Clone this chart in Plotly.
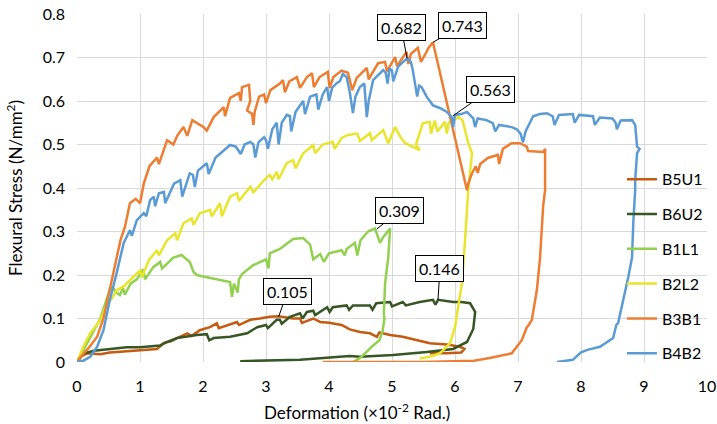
import plotly.graph_objects as go

names = ["B5U1", "B6U2", "B1L1", "B2L2", "B3B1", "B4B2"]
colors = ["#C55A11", "#375623", "#92D050", "#E8E52C", "#ED7D31", "#5B9BD5"]

b5u1 = [(0,0),(0.05,0.012),(0.16,0.02),(0.37,0.018),(0.52,0.022),(0.79,0.025),(1.06,0.027),(1.27,0.03),
        (1.38,0.044),(1.5,0.048),(1.63,0.058),(1.75,0.066),(1.82,0.06),(1.95,0.073),(2.11,0.08),(2.22,0.089),
        (2.25,0.078),(2.38,0.085),(2.54,0.092),(2.57,0.085),(2.75,0.097),(2.9,0.1),(3.06,0.104),(3.2,0.105),
        (3.43,0.1),(3.54,0.1),(3.57,0.09),(3.75,0.1),(3.86,0.092),(4.0,0.09),(4.2,0.085),(4.33,0.075),
        (4.49,0.069),(4.65,0.066),(4.76,0.058),(4.8,0.068),(4.97,0.062),(5.17,0.058),(5.4,0.05),(5.6,0.043),
        (5.87,0.04),(6.08,0.035),(6.15,0.03),(6.1,0.022),(5.87,0.02),(5.6,0.02)]

b6u2 = [(0,0),(0.11,0.02),(0.27,0.026),(0.52,0.03),(0.79,0.034),(1.0,0.034),(1.32,0.038),(1.43,0.046),
        (1.59,0.055),(1.9,0.062),(2.06,0.064),(2.1,0.05),(2.17,0.055),(2.43,0.058),(2.7,0.066),(2.86,0.08),
        (3.0,0.085),(3.03,0.078),(3.17,0.097),(3.22,0.097),(3.25,0.088),(3.38,0.104),(3.54,0.112),(3.58,0.1),
        (3.65,0.115),(3.75,0.118),(3.78,0.108),(3.97,0.126),(4.01,0.115),(4.06,0.126),(4.28,0.13),(4.32,0.12),
        (4.38,0.13),(4.65,0.13),(4.69,0.12),(4.75,0.135),(4.97,0.138),(5.0,0.128),(5.17,0.138),(5.22,0.13),
        (5.44,0.138),(5.65,0.143),(5.69,0.132),(5.73,0.143),(5.97,0.138),(6.1,0.138),(6.24,0.135),(6.32,0.115),
        (6.29,0.076),(6.19,0.046),(5.97,0.03),(5.55,0.023),(5.02,0.016),(4.49,0.012),(4.33,0.014),(3.54,0.005),
        (2.59,0.002)]

b1l1 = [(0,0),(0.16,0.044),(0.37,0.10),(0.52,0.166),(0.57,0.172),(0.62,0.16),(0.68,0.154),(0.73,0.17),
        (0.76,0.155),(0.85,0.18),(0.95,0.19),(1.05,0.213),(1.08,0.19),(1.21,0.218),(1.32,0.23),(1.35,0.215),
        (1.53,0.24),(1.66,0.246),(1.79,0.23),(1.85,0.207),(1.9,0.2),(2.06,0.195),(2.27,0.188),(2.43,0.184),
        (2.46,0.15),(2.49,0.18),(2.55,0.16),(2.57,0.19),(2.62,0.202),(2.79,0.222),(3.0,0.236),(3.04,0.215),
        (3.06,0.25),(3.22,0.26),(3.43,0.283),(3.59,0.285),(3.7,0.27),(3.75,0.236),(3.86,0.248),(3.92,0.23),
        (4.0,0.25),(4.2,0.257),(4.25,0.245),(4.28,0.26),(4.41,0.274),(4.45,0.245),(4.5,0.28),(4.62,0.3),
        (4.73,0.307),(4.81,0.274),(4.86,0.287),(4.97,0.307),(4.94,0.24),(4.89,0.18),(4.87,0.11),(4.88,0.1),
        (4.85,0.07),(4.8,0.05),(4.7,0.038),(4.6,0.025),(4.5,0.01),(4.38,0.0)]

b2l2 = [(0,0.0),(0.1,0.035),(0.21,0.066),(0.37,0.096),(0.48,0.135),(0.55,0.145),(0.63,0.165),(0.75,0.175),
        (0.84,0.188),(1.0,0.21),(1.03,0.195),(1.14,0.234),(1.27,0.257),(1.3,0.245),(1.43,0.28),(1.56,0.296),
        (1.59,0.28),(1.69,0.319),(1.82,0.33),(1.85,0.315),(1.95,0.342),(2.11,0.35),(2.14,0.335),(2.27,0.365),
        (2.3,0.335),(2.43,0.38),(2.54,0.388),(2.57,0.37),(2.75,0.403),(2.8,0.39),(2.97,0.418),(3.06,0.43),
        (3.1,0.42),(3.17,0.437),(3.2,0.42),(3.33,0.457),(3.43,0.464),(3.47,0.445),(3.59,0.48),(3.75,0.499),
        (3.78,0.48),(3.9,0.5),(4.06,0.506),(4.09,0.49),(4.2,0.515),(4.3,0.522),(4.45,0.525),(4.49,0.508),
        (4.65,0.526),(4.68,0.51),(4.86,0.533),(4.94,0.503),(5.05,0.54),(5.13,0.518),(5.21,0.503),(5.44,0.487),
        (5.38,0.5),(5.49,0.549),(5.6,0.552),(5.62,0.525),(5.68,0.555),(5.72,0.53),(5.84,0.552),(5.87,0.525),
        (5.9,0.55),(6.05,0.563),(6.12,0.556),(6.18,0.52),(6.21,0.503),(6.27,0.48),(6.24,0.434),(6.21,0.395),
        (6.16,0.28),(6.11,0.18),(6.05,0.127),(6.0,0.08),(5.92,0.043),(5.76,0.02),(5.6,0.012),(5.44,0.008)]

b3b1 = [(0,0),(0.05,0.01),(0.2,0.035),(0.32,0.058),(0.42,0.1),(0.52,0.166),(0.6,0.22),(0.69,0.28),
        (0.76,0.31),(0.84,0.365),(0.93,0.375),(1.0,0.365),(1.06,0.41),(1.15,0.45),(1.27,0.47),(1.30,0.455),
        (1.43,0.51),(1.53,0.50),(1.59,0.52),(1.69,0.54),(1.75,0.52),(1.83,0.556),(2.01,0.54),(2.06,0.532),
        (2.17,0.563),(2.33,0.586),(2.35,0.565),(2.43,0.607),(2.57,0.618),(2.6,0.6),(2.62,0.632),(2.73,0.637),
        (2.75,0.6),(2.7,0.578),(2.78,0.57),(2.8,0.545),(2.82,0.575),(2.89,0.61),(2.97,0.615),(3.0,0.595),
        (3.07,0.625),(3.22,0.64),(3.27,0.648),(3.3,0.62),(3.37,0.645),(3.49,0.655),(3.54,0.63),(3.65,0.655),
        (3.73,0.664),(3.76,0.632),(3.85,0.655),(3.98,0.667),(4.01,0.63),(4.07,0.655),(4.2,0.67),(4.3,0.665),
        (4.37,0.625),(4.44,0.653),(4.6,0.676),(4.63,0.65),(4.78,0.687),(4.89,0.69),(4.92,0.668),(5.05,0.701),
        (5.08,0.68),(5.23,0.713),(5.26,0.685),(5.3,0.708),(5.41,0.722),(5.46,0.69),(5.5,0.7),(5.58,0.722),
        (5.65,0.735),(6.19,0.395),(6.21,0.41),(6.27,0.434),(6.33,0.45),(6.36,0.435),(6.4,0.455),(6.52,0.469),
        (6.68,0.476),(6.7,0.455),(6.76,0.49),(6.9,0.503),(7.03,0.503),(7.14,0.495),(7.16,0.485),(7.4,0.483),
        (7.43,0.49),(7.43,0.395),(7.4,0.36),(7.35,0.24),(7.3,0.166),(7.22,0.097),(7.17,0.085),(7.14,0.08),
        (7.06,0.05),(6.9,0.02),(6.55,0.009),(6.3,0.003),(5.5,0.0),(3.9,0.0)]

b4b2 = [(0,0),(0.1,0.003),(0.21,0.012),(0.32,0.035),(0.42,0.073),(0.52,0.142),(0.63,0.205),(0.74,0.273),
        (0.84,0.303),(0.87,0.29),(0.95,0.326),(1.06,0.342),(1.1,0.335),(1.16,0.372),(1.22,0.38),(1.24,0.358),
        (1.3,0.388),(1.38,0.391),(1.4,0.365),(1.54,0.41),(1.64,0.418),(1.67,0.38),(1.79,0.434),(1.84,0.43),
        (1.87,0.402),(1.92,0.44),(2.06,0.457),(2.09,0.432),(2.2,0.47),(2.33,0.487),(2.43,0.499),(2.52,0.495),
        (2.6,0.478),(2.66,0.5),(2.75,0.506),(2.8,0.5),(2.83,0.47),(2.88,0.505),(2.97,0.517),(3.0,0.51),
        (3.03,0.49),(3.1,0.535),(3.17,0.55),(3.2,0.5),(3.25,0.55),(3.33,0.568),(3.38,0.565),(3.4,0.53),
        (3.47,0.575),(3.59,0.6),(3.62,0.57),(3.7,0.61),(3.8,0.615),(3.83,0.58),(3.9,0.615),(3.97,0.632),
        (4.0,0.6),(4.05,0.63),(4.12,0.641),(4.17,0.645),(4.22,0.662),(4.28,0.655),(4.33,0.62),(4.38,0.572),
        (4.42,0.61),(4.49,0.632),(4.56,0.64),(4.6,0.563),(4.63,0.6),(4.7,0.648),(4.78,0.66),(4.86,0.671),
        (4.9,0.665),(4.93,0.64),(4.96,0.675),(5.0,0.67),(5.02,0.645),(5.1,0.68),(5.24,0.698),(5.3,0.69),
        (5.33,0.671),(5.4,0.61),(5.43,0.635),(5.47,0.632),(5.55,0.61),(5.65,0.59),(5.76,0.584),(5.87,0.575),
        (5.95,0.563),(5.97,0.54),(6.0,0.568),(6.1,0.57),(6.19,0.575),(6.29,0.56),(6.32,0.54),(6.36,0.56),
        (6.5,0.556),(6.6,0.549),(6.64,0.53),(6.7,0.545),(6.9,0.54),(6.98,0.535),(7.04,0.525),(7.08,0.505),
        (7.12,0.53),(7.24,0.565),(7.35,0.57),(7.46,0.572),(7.55,0.565),(7.58,0.545),(7.65,0.568),(7.87,0.57),
        (7.9,0.55),(7.97,0.568),(8.19,0.565),(8.22,0.545),(8.3,0.562),(8.5,0.56),(8.55,0.55),(8.57,0.535),
        (8.63,0.555),(8.81,0.556),(8.86,0.545),(8.89,0.495),(8.93,0.49),(8.89,0.48),(8.86,0.418),(8.86,0.395),
        (8.83,0.32),(8.81,0.24),(8.75,0.195),(8.67,0.143),(8.62,0.11),(8.59,0.09),(8.56,0.085),(8.51,0.055),
        (8.3,0.035),(8.1,0.028),(8.0,0.022),(7.87,0.005),(7.62,0.0)]

series = [b5u1, b6u2, b1l1, b2l2, b3b1, b4b2]

# peak labels: text, point, box offset (px)
label_text = ["0.682", "0.743", "0.563", "0.309", "0.146", "0.105"]
label_x = [5.24, 5.65, 5.97, 4.76, 5.73, 3.2]
label_y = [0.698, 0.735, 0.566, 0.306, 0.143, 0.104]
label_ax = [-6, 30, 37, 23, 2, 9]
label_ay = [-31, -17, -26, -18, -31, -25]

x_title = "Deformation (×10<sup>-2</sup> Rad.)"
y_title = "Flexural Stress (N/mm<sup>2</sup>)"

FONT = "Lato, Carlito, Liberation Sans, sans-serif"

fig = go.Figure()
for name, col, pts in zip(names, colors, series):
    fig.add_trace(go.Scatter(
        x=[p[0] for p in pts], y=[p[1] for p in pts], mode="lines", name=name,
        line=dict(color=col, width=2.5), legendgroup=name))

for t, x, y, ax, ay in zip(label_text, label_x, label_y, label_ax, label_ay):
    fig.add_annotation(x=x, y=y, text=t, showarrow=True, arrowhead=0, arrowwidth=1,
                       arrowcolor="black", ax=ax, ay=ay, bgcolor="white",
                       bordercolor="black", borderwidth=1, borderpad=3,
                       font=dict(family=FONT, size=16, color="black"))

# x axis title (offset left of plot centre, as in the reference)
fig.add_annotation(xref="paper", yref="paper", x=0.444, y=-0.141, text=x_title,
                   showarrow=False, xanchor="center", yanchor="middle",
                   font=dict(family=FONT, size=17, color="black"))

fig.update_layout(
    width=717, height=424,
    margin=dict(l=77, r=10, t=14, b=62, autoexpand=False),
    paper_bgcolor="white", plot_bgcolor="white",
    font=dict(family=FONT, size=16, color="#000000"),
    showlegend=True,
    legend=dict(x=0.865, y=0.275, xanchor="left", yanchor="middle",
                bgcolor="rgba(0,0,0,0)", font=dict(size=16, color="#000000"),
                tracegroupgap=11, itemwidth=30),
    xaxis=dict(range=[0, 10], dtick=1, tick0=0, showgrid=True, gridcolor="#D9D9D9",
               gridwidth=1, zeroline=False, showline=False, ticks="", automargin=False,
               ticklabelstandoff=13, tickfont=dict(size=16)),
    yaxis=dict(range=[0, 0.8], dtick=0.1, tick0=0, showgrid=True, gridcolor="#D9D9D9",
               gridwidth=1, zeroline=False, showline=False, ticks="", automargin=False,
               ticklabelstandoff=11, tickfont=dict(size=16), tickformat=".1~f",
               title=dict(text=y_title, font=dict(size=17), standoff=15)),
)

fig.write_html("out.html", config={"displayModeBar": False},
               post_script="document.body.style.margin='0';document.body.style.padding='0';")
